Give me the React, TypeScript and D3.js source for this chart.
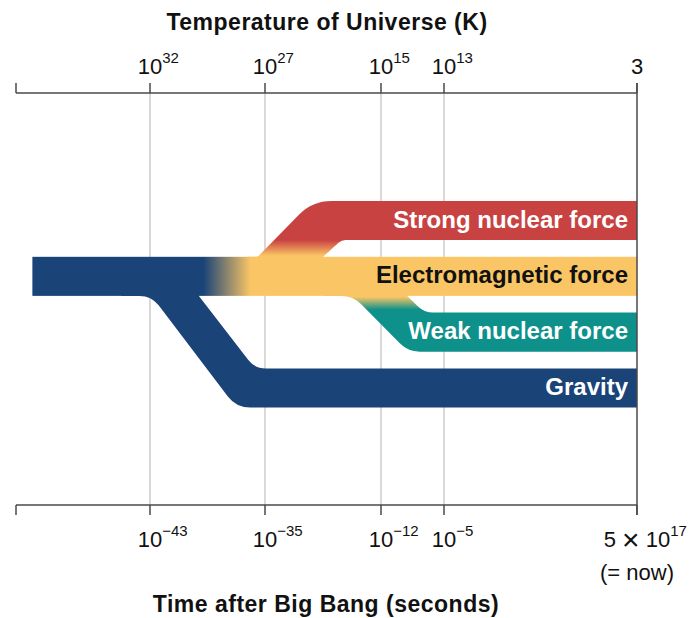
import React, { useLayoutEffect, useRef, useState } from "react";
import * as d3 from "d3";

const W = 690;
const H = 618;

// ---------- data ----------
// time ticks (log10 of seconds after the Big Bang)
const timeExponents = [-43, -35, -12, -5, 17.7];
const timeBase = ["10", "10", "10", "10", "5 × 10"];
const timeSup = ["−43", "−35", "−12", "−5", "17"];
const timeNote = ["", "", "", "", "(= now)"];
// temperature ticks (K) at the same times
const tempBase = ["10", "10", "10", "10", "3"];
const tempSup = ["32", "27", "15", "13", ""];

const forces = [
  "Strong nuclear force",
  "Electromagnetic force",
  "Weak nuclear force",
  "Gravity",
];
const forceColors = ["#c94242", "#fac665", "#0e918b", "#1a4378"];
const labelColors = ["#ffffff", "#111111", "#ffffff", "#ffffff"];

// unified force band (time exponents)
const unifiedStart = -50.9;
const blendStart = -39.3;
const blendEnd = -36.0;

// branches leaving the unified / electromagnetic band (time exponents)
// outer edge leaves at outer[0] and arrives at outer[1]; inner edge likewise
const branchForce = ["Gravity", "Strong nuclear force", "Weak nuclear force"];
const branchOuter = [
  [-42.9, -37.0],
  [-35.5, -25.6],
  [-17.55, -9.0],
];
const branchInner = [
  [-39.6, -35.7],
  [-23.5, -19.8],
  [-9.1, -7.2],
];

// ---------- layout ----------
const plotTop = 93;
const plotBottom = 505;
const xLeft = 16;
const xRight = 637;
const tickLen = 10;

const x = d3
  .scaleLinear()
  .domain([-52, ...timeExponents])
  .range([xLeft, 150, 265, 381, 444, xRight]);

const y = d3
  .scaleBand<string>()
  .domain(forces)
  .range([201, 407.5])
  .paddingInner(0.3)
  .paddingOuter(0);

const bw = y.bandwidth();

function roundedPath(pts: [number, number][], radii: number[]) {
  const p = d3.path();
  const n = pts.length;
  const s: [number, number] = [
    (pts[n - 1][0] + pts[0][0]) / 2,
    (pts[n - 1][1] + pts[0][1]) / 2,
  ];
  p.moveTo(s[0], s[1]);
  for (let i = 0; i < n; i++) {
    const c = pts[i];
    const nx = pts[(i + 1) % n];
    if (radii[i] > 0) p.arcTo(c[0], c[1], nx[0], nx[1], radii[i]);
    else p.lineTo(c[0], c[1]);
  }
  p.closePath();
  return p.toString();
}

function branchPath(i: number) {
  const f = branchForce[i];
  const em = "Electromagnetic force";
  const emTop = y(em)!;
  const emBot = emTop + bw;
  const t = y(f)!;
  const b = t + bw;
  const [o0, o1] = branchOuter[i].map(x);
  const [i0, i1] = branchInner[i].map(x);
  const ov = 4;
  if (t > emTop) {
    const pts: [number, number][] = [
      [o0 - 30, emBot],
      [o0, emBot],
      [o1, b],
      [xRight, b],
      [xRight, t],
      [i1, t],
      [i0, emBot],
      [i0, emBot - ov],
      [o0 - 30, emBot - ov],
    ];
    const r = [0, 24, 28, 0, 0, 22, 2, 0, 0];
    if (i === 2) {
      r[1] = 28;
      r[2] = 28;
      r[5] = 22;
    }
    return roundedPath(pts, r);
  } else {
    const pts: [number, number][] = [
      [o0 - 10, emTop + ov],
      [o0 - 10, emTop],
      [o0, emTop],
      [o1, t],
      [xRight, t],
      [xRight, b],
      [i1, b],
      [i0, emTop],
      [i0, emTop + ov],
    ];
    const r = [0, 0, 4, 45, 0, 0, 10, 2, 0];
    return roundedPath(pts, r);
  }
}

const lineColor = "#4a4a4a";
const gridColor = "#cccccc";
const font = "'Liberation Sans', Arial, Helvetica, sans-serif";
const tickFont = 22;
const supFont = 15;

function TickLabel({ x0, y0, base, sup }: { x0: number; y0: number; base: string; sup: string }) {
  const ref = useRef<SVGTextElement>(null);
  const [bwid, setBwid] = useState(0);
  useLayoutEffect(() => {
    if (ref.current) setBwid(ref.current.getComputedTextLength());
  }, [base]);
  const parts = base.split("×");
  return (
    <g>
      <text ref={ref} x={x0} y={y0} textAnchor="middle" fontSize={tickFont} fill="#111">
        {parts.length > 1 ? (
          <>
            <tspan>{parts[0]}</tspan>
            <tspan fontSize={30} dy={3}>×</tspan>
            <tspan dy={-3}>{parts[1]}</tspan>
          </>
        ) : (
          base
        )}
      </text>
      {sup ? (
        <text x={x0 + bwid / 2} y={y0 - 11} fontSize={supFont} fill="#111">
          {sup}
        </text>
      ) : null}
    </g>
  );
}

export default function App() {
  const emTop = y("Electromagnetic force")!;
  const emBot = emTop + bw;
  const strongBot = y("Strong nuclear force")! + bw;
  const weakTop = y("Weak nuclear force")!;
  const tickXs = timeExponents.map(x);

  return (
    <svg width={W} height={H} style={{ display: "block", position: "absolute", left: 0, top: 0 }} fontFamily={font}>
      <rect width={W} height={H} fill="#ffffff" />
      <defs>
        <linearGradient id="blend" gradientUnits="userSpaceOnUse" x1={x(blendStart)} x2={x(blendEnd)} y1={0} y2={0}>
          <stop offset="0" stopColor={forceColors[3]} />
          <stop offset="1" stopColor={forceColors[1]} />
        </linearGradient>
        <linearGradient id="strongGrad" gradientUnits="userSpaceOnUse" x1={0} x2={0} y1={strongBot} y2={emTop - 1}>
          <stop offset="0" stopColor={forceColors[0]} />
          <stop offset="1" stopColor={forceColors[1]} />
        </linearGradient>
        <linearGradient id="weakGrad" gradientUnits="userSpaceOnUse" x1={0} x2={0} y1={emBot + 1} y2={weakTop - 3}>
          <stop offset="0" stopColor={forceColors[1]} />
          <stop offset="1" stopColor={forceColors[2]} />
        </linearGradient>
      </defs>

      {/* grid lines */}
      {tickXs.slice(0, 4).map((tx, i) => (
        <line key={"g" + i} x1={tx} x2={tx} y1={plotTop} y2={plotBottom} stroke={gridColor} strokeWidth={1.5} />
      ))}

      {/* branches */}
      <path d={branchPath(0)} fill={forceColors[3]} />
      <path d={branchPath(1)} fill="url(#strongGrad)" />
      <path d={branchPath(2)} fill="url(#weakGrad)" />

      {/* unified + electromagnetic band */}
      <rect x={x(unifiedStart)} y={emTop} width={xRight - x(unifiedStart)} height={bw} fill="url(#blend)" />

      {/* frame */}
      <line x1={xLeft} x2={xRight} y1={plotTop} y2={plotTop} stroke={lineColor} strokeWidth={1.5} />
      <line x1={xLeft} x2={xRight} y1={plotBottom} y2={plotBottom} stroke={lineColor} strokeWidth={1.5} />
      <line x1={xRight} x2={xRight} y1={plotTop - tickLen} y2={plotBottom + tickLen} stroke={lineColor} strokeWidth={1.5} />
      {[xLeft, ...tickXs].map((tx, i) => (
        <g key={"t" + i}>
          <line x1={tx} x2={tx} y1={plotTop - tickLen} y2={plotTop} stroke={lineColor} strokeWidth={1.5} />
          <line x1={tx} x2={tx} y1={plotBottom} y2={plotBottom + tickLen} stroke={lineColor} strokeWidth={1.5} />
        </g>
      ))}

      {/* band labels */}
      {forces.map((f, i) => (
        <text
          key={f}
          x={628}
          y={y(f)! + bw / 2 + 7}
          textAnchor="end"
          fontWeight="bold"
          fontSize={24}
          fill={labelColors[i]}
        >
          {f}
        </text>
      ))}

      {/* top tick labels */}
      {tickXs.map((tx, i) => (
        <TickLabel key={"tt" + i} x0={tx} y0={74} base={tempBase[i]} sup={tempSup[i]} />
      ))}

      {/* bottom tick labels */}
      {tickXs.map((tx, i) => (
        <g key={"bt" + i}>
          <TickLabel x0={tx} y0={547} base={timeBase[i]} sup={timeSup[i]} />
          {timeNote[i] ? (
            <text x={tx} y={580} textAnchor="middle" fontSize={tickFont} fill="#111">
              {timeNote[i]}
            </text>
          ) : null}
        </g>
      ))}

      {/* axis titles */}
      <text x={327} y={30} textAnchor="middle" fontWeight="bold" fontSize={23} letterSpacing={0.5} fill="#111">
        Temperature of Universe (K)
      </text>
      <text x={326} y={612} textAnchor="middle" fontWeight="bold" fontSize={23} letterSpacing={0.5} fill="#111">
        Time after Big Bang (seconds)
      </text>
    </svg>
  );
}
